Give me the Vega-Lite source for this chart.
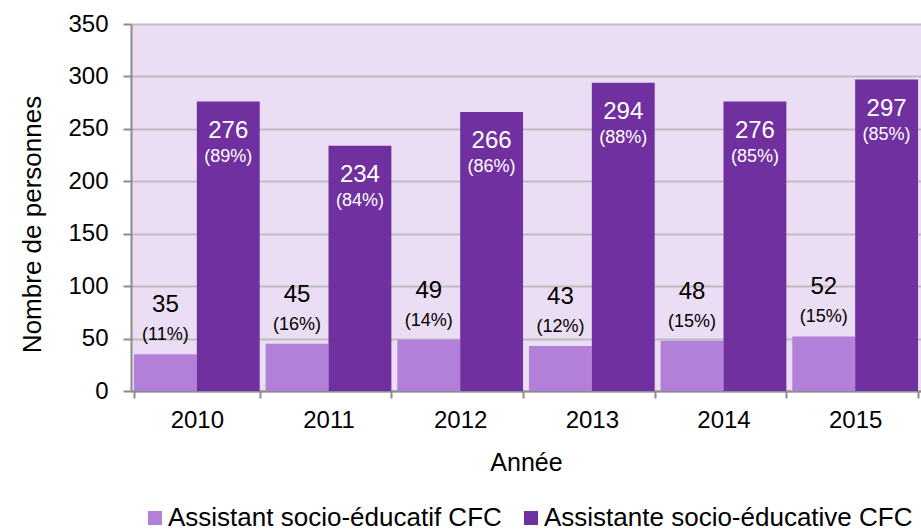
{
  "$schema": "https://vega.github.io/schema/vega-lite/v6.json",
  "width": 790,
  "height": 367,
  "autosize": {"type": "none"},
  "padding": {"left": 131, "top": 24, "right": 0, "bottom": 141},
  "background": "white",
  "config": {
    "font": "Liberation Sans",
    "view": {"fill": "#EBDDF3", "stroke": null}
  },
  "data": {
    "values": [
      {"annee": "2010", "serie": "Assistant socio-éducatif CFC", "valeur": 35, "pct": "(11%)"},
      {"annee": "2010", "serie": "Assistante socio-éducative CFC", "valeur": 276, "pct": "(89%)"},
      {"annee": "2011", "serie": "Assistant socio-éducatif CFC", "valeur": 45, "pct": "(16%)"},
      {"annee": "2011", "serie": "Assistante socio-éducative CFC", "valeur": 234, "pct": "(84%)"},
      {"annee": "2012", "serie": "Assistant socio-éducatif CFC", "valeur": 49, "pct": "(14%)"},
      {"annee": "2012", "serie": "Assistante socio-éducative CFC", "valeur": 266, "pct": "(86%)"},
      {"annee": "2013", "serie": "Assistant socio-éducatif CFC", "valeur": 43, "pct": "(12%)"},
      {"annee": "2013", "serie": "Assistante socio-éducative CFC", "valeur": 294, "pct": "(88%)"},
      {"annee": "2014", "serie": "Assistant socio-éducatif CFC", "valeur": 48, "pct": "(15%)"},
      {"annee": "2014", "serie": "Assistante socio-éducative CFC", "valeur": 276, "pct": "(85%)"},
      {"annee": "2015", "serie": "Assistant socio-éducatif CFC", "valeur": 52, "pct": "(15%)"},
      {"annee": "2015", "serie": "Assistante socio-éducative CFC", "valeur": 297, "pct": "(85%)"}
    ]
  },
  "encoding": {
    "x": {
      "field": "annee",
      "type": "nominal",
      "scale": {"paddingInner": 0.045, "paddingOuter": 0.0225},
      "axis": {
        "title": "Année",
        "labelAngle": 0,
        "tickBand": "extent",
        "labelFontSize": 24,
        "labelColor": "#000000",
        "labelPadding": 10,
        "titleFontSize": 25,
        "titleFontWeight": "normal",
        "titleColor": "#000000",
        "titlePadding": 18,
        "domainColor": "#8C8C8C",
        "domainWidth": 2,
        "tickColor": "#8C8C8C",
        "tickWidth": 2,
        "tickSize": 7,
        "grid": false
      }
    },
    "xOffset": {"field": "serie", "type": "nominal", "scale": {"paddingInner": 0, "paddingOuter": 0}},
    "y": {
      "field": "valeur",
      "type": "quantitative",
      "scale": {"domain": [0, 350], "nice": false},
      "axis": {
        "title": "Nombre de personnes",
        "values": [0, 50, 100, 150, 200, 250, 300, 350],
        "labelFontSize": 24,
        "labelColor": "#000000",
        "labelPadding": 15,
        "titleFontSize": 26,
        "titleFontWeight": "normal",
        "titleColor": "#000000",
        "titlePadding": 22,
        "titleY": 200,
        "domainColor": "#8C8C8C",
        "domainWidth": 2,
        "tickColor": "#8C8C8C",
        "tickWidth": 2,
        "tickSize": 8,
        "grid": true,
        "gridColor": "#BDBDBD",
        "gridWidth": 2
      }
    }
  },
  "layer": [
    {
      "mark": {"type": "bar"},
      "encoding": {
        "color": {
          "field": "serie",
          "type": "nominal",
          "scale": {"range": ["#B280D8", "#7030A0"]},
          "legend": {
            "title": null,
            "orient": "none",
            "direction": "horizontal",
            "legendX": 11,
            "legendY": 481,
            "symbolType": "square",
            "symbolSize": 196,
            "symbolStrokeWidth": 0,
            "labelFontSize": 26,
            "labelColor": "#000000",
            "labelOffset": 0,
            "columnPadding": 16,
            "labelLimit": 600
          }
        }
      }
    },
    {
      "transform": [{"filter": "datum.serie === 'Assistant socio-éducatif CFC'"}],
      "mark": {"type": "text", "fontSize": 24, "color": "#000000", "baseline": "middle", "dy": -49},
      "encoding": {"text": {"field": "valeur", "type": "nominal"}}
    },
    {
      "transform": [{"filter": "datum.serie === 'Assistant socio-éducatif CFC'"}],
      "mark": {"type": "text", "fontSize": 18, "color": "#000000", "baseline": "middle", "dy": -19},
      "encoding": {"text": {"field": "pct", "type": "nominal"}}
    },
    {
      "transform": [{"filter": "datum.serie === 'Assistante socio-éducative CFC'"}],
      "mark": {"type": "text", "fontSize": 24, "color": "#FFFFFF", "baseline": "middle", "dy": 29},
      "encoding": {"text": {"field": "valeur", "type": "nominal"}}
    },
    {
      "transform": [{"filter": "datum.serie === 'Assistante socio-éducative CFC'"}],
      "mark": {"type": "text", "fontSize": 18, "color": "#FFFFFF", "baseline": "middle", "dy": 55},
      "encoding": {"text": {"field": "pct", "type": "nominal"}}
    }
  ]
}
